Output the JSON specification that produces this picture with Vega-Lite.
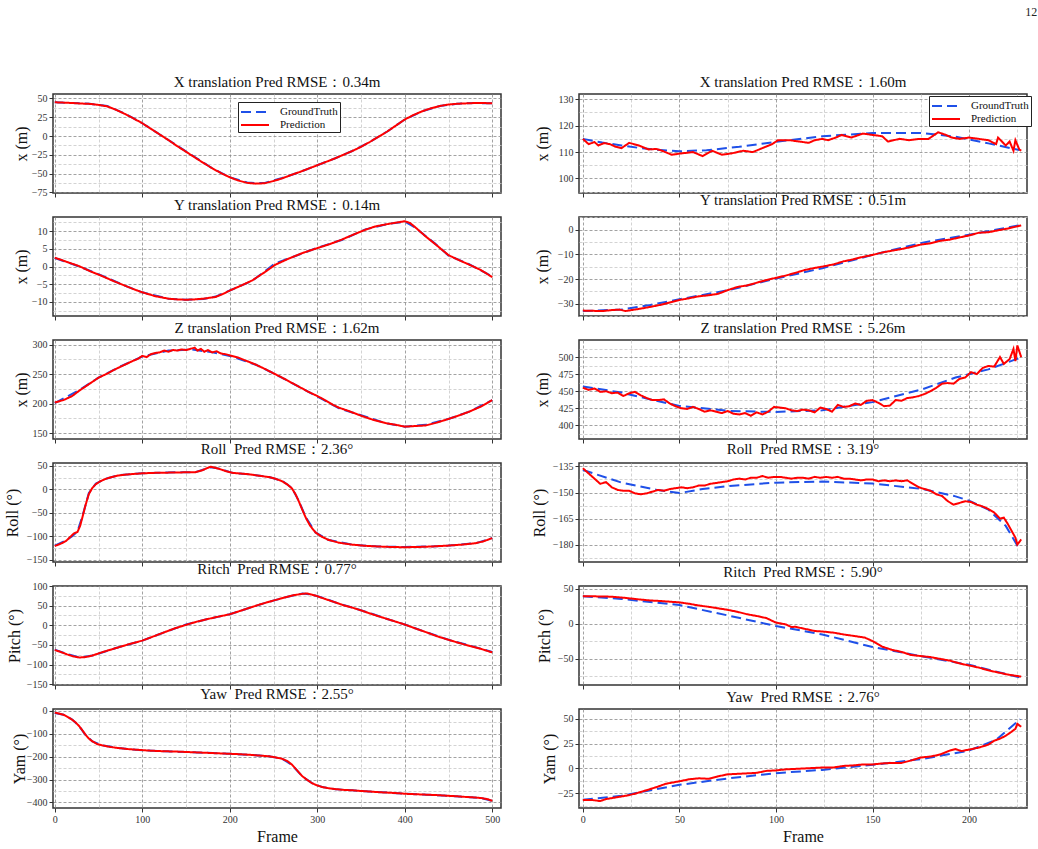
{
"$schema": "https://vega.github.io/schema/vega-lite/v6.json",
"background": "white",
"padding": {"left": 3, "top": 5, "right": 5, "bottom": 5},
"title": {"text": "12", "anchor": "end", "fontSize": 12, "font": "Liberation Serif", "fontWeight": "normal", "color": "#222", "offset": 55, "dx": 5},
"config": {
 "view": {"stroke": "#333", "strokeWidth": 1.5},
 "axis": {"domain": false, "tickColor": "#333", "tickSize": 4, "tickWidth": 1, "gridDash": [3, 2], "gridWidth": 0.8, "labelFont": "Liberation Serif", "labelFontSize": 10, "labelColor": "#333", "labelPadding": 2, "labelFlush": false, "labelOverlap": false, "titleFont": "Liberation Serif", "titleFontWeight": "normal", "titleFontSize": 16, "titleColor": "#111"},
 "title": {"font": "Liberation Serif", "fontSize": 15, "fontWeight": "normal", "color": "#111", "offset": 4},
 "line": {"strokeWidth": 2}
},
"datasets": {
 "L1": [
  {"s":"g","f":0,"v":45},{"s":"g","f":20,"v":44},{"s":"g","f":40,"v":43},{"s":"g","f":60,"v":40},{"s":"g","f":80,"v":30},{"s":"g","f":100,"v":17},{"s":"g","f":120,"v":2},{"s":"g","f":140,"v":-13},{"s":"g","f":160,"v":-28},{"s":"g","f":180,"v":-43},{"s":"g","f":200,"v":-55},{"s":"g","f":220,"v":-62},{"s":"g","f":230,"v":-63},{"s":"g","f":240,"v":-62.5},{"s":"g","f":260,"v":-56},{"s":"g","f":280,"v":-48},{"s":"g","f":300,"v":-39},{"s":"g","f":320,"v":-30},{"s":"g","f":340,"v":-20},{"s":"g","f":360,"v":-8},{"s":"g","f":380,"v":6},{"s":"g","f":400,"v":22},{"s":"g","f":420,"v":33},{"s":"g","f":440,"v":40},{"s":"g","f":460,"v":43},{"s":"g","f":480,"v":44},{"s":"g","f":500,"v":43.5},
  {"s":"r","f":0,"v":45},{"s":"r","f":10,"v":44.5},{"s":"r","f":20,"v":44},{"s":"r","f":30,"v":43.3},{"s":"r","f":40,"v":42.8},{"s":"r","f":50,"v":41.5},{"s":"r","f":60,"v":39.5},{"s":"r","f":70,"v":35},{"s":"r","f":80,"v":29.5},{"s":"r","f":90,"v":23.5},{"s":"r","f":100,"v":17},{"s":"r","f":110,"v":9.5},{"s":"r","f":120,"v":2},{"s":"r","f":130,"v":-5.5},{"s":"r","f":140,"v":-13.5},{"s":"r","f":150,"v":-21},{"s":"r","f":160,"v":-28.5},{"s":"r","f":170,"v":-36},{"s":"r","f":180,"v":-43},{"s":"r","f":190,"v":-49.5},{"s":"r","f":200,"v":-55},{"s":"r","f":210,"v":-59.5},{"s":"r","f":220,"v":-62.5},{"s":"r","f":230,"v":-63.5},{"s":"r","f":240,"v":-63},{"s":"r","f":250,"v":-60},{"s":"r","f":260,"v":-56.5},{"s":"r","f":270,"v":-52},{"s":"r","f":280,"v":-48},{"s":"r","f":290,"v":-43.5},{"s":"r","f":300,"v":-39},{"s":"r","f":310,"v":-34.5},{"s":"r","f":320,"v":-30},{"s":"r","f":330,"v":-25},{"s":"r","f":340,"v":-20},{"s":"r","f":350,"v":-14.5},{"s":"r","f":360,"v":-8},{"s":"r","f":370,"v":-1},{"s":"r","f":380,"v":6},{"s":"r","f":390,"v":14},{"s":"r","f":400,"v":22},{"s":"r","f":410,"v":28},{"s":"r","f":420,"v":33},{"s":"r","f":430,"v":37},{"s":"r","f":440,"v":40},{"s":"r","f":450,"v":42},{"s":"r","f":460,"v":43},{"s":"r","f":470,"v":43.5},{"s":"r","f":480,"v":44},{"s":"r","f":490,"v":44},{"s":"r","f":500,"v":43.5}
 ],
 "R1": [
  {"s":"g","f":0,"v":115},{"s":"g","f":10,"v":113.6},{"s":"g","f":20,"v":112.5},{"s":"g","f":30,"v":111.5},{"s":"g","f":38,"v":110.9},{"s":"g","f":50,"v":110.3},{"s":"g","f":64,"v":110.7},{"s":"g","f":81,"v":112},{"s":"g","f":100,"v":113.9},{"s":"g","f":124,"v":116},{"s":"g","f":150,"v":117.2},{"s":"g","f":176,"v":117.2},{"s":"g","f":193,"v":115.8},{"s":"g","f":210,"v":113.3},{"s":"g","f":226,"v":110.8},
  {"s":"r","f":0,"v":115},{"s":"r","f":3,"v":113},{"s":"r","f":6,"v":113.8},{"s":"r","f":8,"v":112.5},{"s":"r","f":11,"v":113.4},{"s":"r","f":14,"v":113},{"s":"r","f":17,"v":112},{"s":"r","f":20,"v":111.5},{"s":"r","f":24,"v":113.5},{"s":"r","f":29,"v":112.5},{"s":"r","f":34,"v":111},{"s":"r","f":38,"v":111.2},{"s":"r","f":41,"v":110.5},{"s":"r","f":46,"v":109},{"s":"r","f":51,"v":109.5},{"s":"r","f":57,"v":110},{"s":"r","f":62,"v":108.5},{"s":"r","f":67,"v":110.5},{"s":"r","f":72,"v":109},{"s":"r","f":77,"v":109.5},{"s":"r","f":83,"v":110.5},{"s":"r","f":88,"v":110},{"s":"r","f":93,"v":111.5},{"s":"r","f":98,"v":113},{"s":"r","f":101,"v":114.5},{"s":"r","f":107,"v":114.5},{"s":"r","f":112,"v":114},{"s":"r","f":117,"v":113.5},{"s":"r","f":120,"v":114.5},{"s":"r","f":124,"v":115},{"s":"r","f":127,"v":114.5},{"s":"r","f":131,"v":115.5},{"s":"r","f":134,"v":116.5},{"s":"r","f":139,"v":115.5},{"s":"r","f":145,"v":117},{"s":"r","f":150,"v":116.5},{"s":"r","f":155,"v":116},{"s":"r","f":158,"v":114},{"s":"r","f":164,"v":115},{"s":"r","f":169,"v":114.5},{"s":"r","f":174,"v":115},{"s":"r","f":179,"v":115},{"s":"r","f":184,"v":117.5},{"s":"r","f":188,"v":116.5},{"s":"r","f":191,"v":115.5},{"s":"r","f":195,"v":115},{"s":"r","f":200,"v":115.5},{"s":"r","f":205,"v":115},{"s":"r","f":210,"v":114.5},{"s":"r","f":214,"v":113},{"s":"r","f":215,"v":115.5},{"s":"r","f":219,"v":112.5},{"s":"r","f":221,"v":114},{"s":"r","f":223,"v":110.5},{"s":"r","f":224,"v":114.5},{"s":"r","f":226,"v":111},{"s":"r","f":227,"v":110.5}
 ],
 "L2": [
  {"s":"g","f":0,"v":2.4},{"s":"g","f":28,"v":0},{"s":"g","f":54,"v":-2.6},{"s":"g","f":80,"v":-5.4},{"s":"g","f":100,"v":-7.3},{"s":"g","f":130,"v":-9.1},{"s":"g","f":150,"v":-9.4},{"s":"g","f":170,"v":-9.2},{"s":"g","f":184,"v":-8.5},{"s":"g","f":200,"v":-6.8},{"s":"g","f":226,"v":-4},{"s":"g","f":252,"v":0.9},{"s":"g","f":283,"v":3.7},{"s":"g","f":300,"v":5.3},{"s":"g","f":328,"v":7.5},{"s":"g","f":355,"v":10.5},{"s":"g","f":378,"v":11.9},{"s":"g","f":400,"v":12.7},{"s":"g","f":412,"v":11},{"s":"g","f":435,"v":6.4},{"s":"g","f":450,"v":3.1},{"s":"g","f":473,"v":0.7},{"s":"g","f":500,"v":-2.8},
  {"s":"r","f":0,"v":2.5},{"s":"r","f":15,"v":1.2},{"s":"r","f":28,"v":0.1},{"s":"r","f":40,"v":-1.3},{"s":"r","f":54,"v":-2.7},{"s":"r","f":67,"v":-4.1},{"s":"r","f":80,"v":-5.4},{"s":"r","f":90,"v":-6.4},{"s":"r","f":100,"v":-7.3},{"s":"r","f":115,"v":-8.4},{"s":"r","f":130,"v":-9.1},{"s":"r","f":140,"v":-9.3},{"s":"r","f":150,"v":-9.4},{"s":"r","f":160,"v":-9.3},{"s":"r","f":170,"v":-9.1},{"s":"r","f":184,"v":-8.6},{"s":"r","f":192,"v":-7.8},{"s":"r","f":200,"v":-6.8},{"s":"r","f":213,"v":-5.4},{"s":"r","f":226,"v":-3.9},{"s":"r","f":240,"v":-1.6},{"s":"r","f":252,"v":0.5},{"s":"r","f":268,"v":2.3},{"s":"r","f":283,"v":3.8},{"s":"r","f":300,"v":5.2},{"s":"r","f":314,"v":6.3},{"s":"r","f":328,"v":7.6},{"s":"r","f":342,"v":9.1},{"s":"r","f":355,"v":10.4},{"s":"r","f":366,"v":11.3},{"s":"r","f":378,"v":11.9},{"s":"r","f":390,"v":12.4},{"s":"r","f":400,"v":12.8},{"s":"r","f":406,"v":12.3},{"s":"r","f":412,"v":11.1},{"s":"r","f":423,"v":8.7},{"s":"r","f":435,"v":6.3},{"s":"r","f":450,"v":3.2},{"s":"r","f":462,"v":1.8},{"s":"r","f":473,"v":0.6},{"s":"r","f":487,"v":-1},{"s":"r","f":500,"v":-3}
 ],
 "R2": [
  {"s":"g","f":0,"v":-33},{"s":"g","f":20,"v":-32.4},{"s":"g","f":35,"v":-30.5},{"s":"g","f":50,"v":-28.2},{"s":"g","f":76,"v":-24.4},{"s":"g","f":100,"v":-19.8},{"s":"g","f":124,"v":-15.6},{"s":"g","f":150,"v":-10.2},{"s":"g","f":176,"v":-5.2},{"s":"g","f":200,"v":-2},{"s":"g","f":226,"v":1.8},
  {"s":"r","f":0,"v":-32.8},{"s":"r","f":5,"v":-32.9},{"s":"r","f":10,"v":-33},{"s":"r","f":15,"v":-32.6},{"s":"r","f":19,"v":-32.4},{"s":"r","f":22,"v":-33},{"s":"r","f":26,"v":-32.5},{"s":"r","f":30,"v":-32},{"s":"r","f":35,"v":-31.3},{"s":"r","f":40,"v":-30.5},{"s":"r","f":45,"v":-29.5},{"s":"r","f":50,"v":-28.5},{"s":"r","f":55,"v":-27.8},{"s":"r","f":60,"v":-27},{"s":"r","f":65,"v":-26.6},{"s":"r","f":70,"v":-26},{"s":"r","f":75,"v":-24.5},{"s":"r","f":80,"v":-23.2},{"s":"r","f":85,"v":-22.6},{"s":"r","f":90,"v":-21.5},{"s":"r","f":95,"v":-20.4},{"s":"r","f":100,"v":-19.5},{"s":"r","f":105,"v":-18.6},{"s":"r","f":110,"v":-17.5},{"s":"r","f":115,"v":-16.3},{"s":"r","f":120,"v":-15.5},{"s":"r","f":125,"v":-14.8},{"s":"r","f":130,"v":-14},{"s":"r","f":135,"v":-12.8},{"s":"r","f":140,"v":-12},{"s":"r","f":145,"v":-11},{"s":"r","f":150,"v":-10.2},{"s":"r","f":155,"v":-9.2},{"s":"r","f":160,"v":-8.5},{"s":"r","f":165,"v":-7.8},{"s":"r","f":170,"v":-7},{"s":"r","f":175,"v":-6},{"s":"r","f":180,"v":-5.5},{"s":"r","f":185,"v":-4.5},{"s":"r","f":190,"v":-4},{"s":"r","f":195,"v":-3.1},{"s":"r","f":200,"v":-2.3},{"s":"r","f":205,"v":-1.2},{"s":"r","f":210,"v":-1},{"s":"r","f":215,"v":-0.2},{"s":"r","f":220,"v":0.5},{"s":"r","f":227,"v":1.8}
 ],
 "L3": [
  {"s":"g","f":0,"v":201},{"s":"g","f":28,"v":223},{"s":"g","f":50,"v":244},{"s":"g","f":75,"v":263},{"s":"g","f":100,"v":280},{"s":"g","f":130,"v":290},{"s":"g","f":157,"v":292},{"s":"g","f":180,"v":287},{"s":"g","f":200,"v":281},{"s":"g","f":230,"v":266},{"s":"g","f":252,"v":250},{"s":"g","f":275,"v":232},{"s":"g","f":300,"v":212},{"s":"g","f":325,"v":192},{"s":"g","f":351,"v":180},{"s":"g","f":378,"v":167},{"s":"g","f":400,"v":161},{"s":"g","f":424,"v":164},{"s":"g","f":450,"v":174},{"s":"g","f":473,"v":186},{"s":"g","f":500,"v":206},
  {"s":"r","f":0,"v":202},{"s":"r","f":10,"v":206},{"s":"r","f":20,"v":213},{"s":"r","f":28,"v":222},{"s":"r","f":40,"v":234},{"s":"r","f":50,"v":244},{"s":"r","f":60,"v":251},{"s":"r","f":70,"v":259},{"s":"r","f":80,"v":266},{"s":"r","f":90,"v":273},{"s":"r","f":95,"v":276},{"s":"r","f":100,"v":281},{"s":"r","f":105,"v":279},{"s":"r","f":110,"v":284},{"s":"r","f":115,"v":286},{"s":"r","f":120,"v":287},{"s":"r","f":125,"v":290},{"s":"r","f":130,"v":288},{"s":"r","f":135,"v":291},{"s":"r","f":140,"v":290},{"s":"r","f":145,"v":292},{"s":"r","f":150,"v":291},{"s":"r","f":155,"v":293},{"s":"r","f":160,"v":295},{"s":"r","f":163,"v":290},{"s":"r","f":167,"v":293},{"s":"r","f":171,"v":288},{"s":"r","f":175,"v":291},{"s":"r","f":180,"v":287},{"s":"r","f":185,"v":289},{"s":"r","f":190,"v":285},{"s":"r","f":195,"v":284},{"s":"r","f":200,"v":282},{"s":"r","f":210,"v":278},{"s":"r","f":220,"v":272},{"s":"r","f":230,"v":266},{"s":"r","f":240,"v":259},{"s":"r","f":252,"v":250},{"s":"r","f":260,"v":244},{"s":"r","f":275,"v":232},{"s":"r","f":290,"v":220},{"s":"r","f":300,"v":213},{"s":"r","f":310,"v":205},{"s":"r","f":318,"v":198},{"s":"r","f":325,"v":193},{"s":"r","f":335,"v":188},{"s":"r","f":351,"v":179},{"s":"r","f":365,"v":172},{"s":"r","f":378,"v":167},{"s":"r","f":390,"v":164},{"s":"r","f":400,"v":161},{"s":"r","f":412,"v":162},{"s":"r","f":424,"v":163},{"s":"r","f":437,"v":168},{"s":"r","f":450,"v":174},{"s":"r","f":462,"v":180},{"s":"r","f":473,"v":186},{"s":"r","f":487,"v":195},{"s":"r","f":500,"v":206}
 ],
 "R3": [
  {"s":"g","f":0,"v":457},{"s":"g","f":20,"v":448},{"s":"g","f":38,"v":436},{"s":"g","f":50,"v":428.4},{"s":"g","f":76,"v":421},{"s":"g","f":100,"v":419.6},{"s":"g","f":124,"v":422},{"s":"g","f":150,"v":434},{"s":"g","f":176,"v":453},{"s":"g","f":193,"v":470},{"s":"g","f":210,"v":482},{"s":"g","f":226,"v":498.5},
  {"s":"r","f":0,"v":455},{"s":"r","f":3,"v":452},{"s":"r","f":6,"v":454},{"s":"r","f":9,"v":449},{"s":"r","f":12,"v":450},{"s":"r","f":15,"v":447},{"s":"r","f":18,"v":448},{"s":"r","f":21,"v":443},{"s":"r","f":24,"v":447},{"s":"r","f":27,"v":449},{"s":"r","f":30,"v":444},{"s":"r","f":33,"v":440},{"s":"r","f":36,"v":437},{"s":"r","f":39,"v":437},{"s":"r","f":42,"v":438},{"s":"r","f":45,"v":432},{"s":"r","f":48,"v":428},{"s":"r","f":51,"v":425},{"s":"r","f":54,"v":424},{"s":"r","f":57,"v":427},{"s":"r","f":60,"v":424},{"s":"r","f":63,"v":420},{"s":"r","f":66,"v":422},{"s":"r","f":69,"v":420},{"s":"r","f":72,"v":418},{"s":"r","f":75,"v":421},{"s":"r","f":78,"v":417},{"s":"r","f":81,"v":416},{"s":"r","f":84,"v":418},{"s":"r","f":87,"v":414},{"s":"r","f":90,"v":419},{"s":"r","f":93,"v":416},{"s":"r","f":96,"v":420},{"s":"r","f":99,"v":427},{"s":"r","f":102,"v":426},{"s":"r","f":105,"v":425},{"s":"r","f":108,"v":422},{"s":"r","f":111,"v":421},{"s":"r","f":114,"v":423},{"s":"r","f":117,"v":422},{"s":"r","f":120,"v":419},{"s":"r","f":123,"v":426},{"s":"r","f":126,"v":424},{"s":"r","f":129,"v":420},{"s":"r","f":132,"v":430},{"s":"r","f":135,"v":427},{"s":"r","f":138,"v":428},{"s":"r","f":141,"v":432},{"s":"r","f":144,"v":430},{"s":"r","f":147,"v":436},{"s":"r","f":150,"v":437},{"s":"r","f":153,"v":433},{"s":"r","f":156,"v":428},{"s":"r","f":159,"v":429},{"s":"r","f":162,"v":437},{"s":"r","f":165,"v":436},{"s":"r","f":168,"v":440},{"s":"r","f":171,"v":441},{"s":"r","f":174,"v":443},{"s":"r","f":177,"v":446},{"s":"r","f":180,"v":450},{"s":"r","f":183,"v":455},{"s":"r","f":186,"v":461},{"s":"r","f":189,"v":462},{"s":"r","f":192,"v":461},{"s":"r","f":195,"v":468},{"s":"r","f":198,"v":470},{"s":"r","f":201,"v":478},{"s":"r","f":204,"v":475},{"s":"r","f":207,"v":484},{"s":"r","f":210,"v":487},{"s":"r","f":213,"v":486},{"s":"r","f":216,"v":500},{"s":"r","f":218,"v":490},{"s":"r","f":221,"v":497},{"s":"r","f":223,"v":512},{"s":"r","f":224,"v":494},{"s":"r","f":225,"v":517},{"s":"r","f":227,"v":500}
 ],
 "L4": [
  {"s":"g","f":0,"v":-120},{"s":"g","f":13,"v":-109},{"s":"g","f":20,"v":-100},{"s":"g","f":26,"v":-90},{"s":"g","f":32,"v":-55},{"s":"g","f":39,"v":-8},{"s":"g","f":47,"v":12},{"s":"g","f":58,"v":22},{"s":"g","f":73,"v":30},{"s":"g","f":100,"v":34},{"s":"g","f":130,"v":36},{"s":"g","f":161,"v":36.6},{"s":"g","f":170,"v":42},{"s":"g","f":178,"v":47},{"s":"g","f":188,"v":44},{"s":"g","f":203,"v":35},{"s":"g","f":222,"v":32},{"s":"g","f":245,"v":26},{"s":"g","f":260,"v":18},{"s":"g","f":271,"v":3},{"s":"g","f":279,"v":-25},{"s":"g","f":287,"v":-60},{"s":"g","f":298,"v":-92},{"s":"g","f":313,"v":-108},{"s":"g","f":340,"v":-118},{"s":"g","f":370,"v":-122},{"s":"g","f":400,"v":-123},{"s":"g","f":430,"v":-122},{"s":"g","f":450,"v":-120},{"s":"g","f":481,"v":-115},{"s":"g","f":500,"v":-104},
  {"s":"r","f":0,"v":-121},{"s":"r","f":7,"v":-116},{"s":"r","f":13,"v":-110},{"s":"r","f":18,"v":-101},{"s":"r","f":22,"v":-94},{"s":"r","f":26,"v":-91},{"s":"r","f":29,"v":-78},{"s":"r","f":32,"v":-57},{"s":"r","f":35,"v":-35},{"s":"r","f":39,"v":-10},{"s":"r","f":43,"v":3},{"s":"r","f":47,"v":11},{"s":"r","f":52,"v":17},{"s":"r","f":58,"v":22},{"s":"r","f":65,"v":26},{"s":"r","f":73,"v":29.5},{"s":"r","f":85,"v":32},{"s":"r","f":100,"v":34},{"s":"r","f":115,"v":35},{"s":"r","f":130,"v":35.5},{"s":"r","f":145,"v":36},{"s":"r","f":161,"v":36.5},{"s":"r","f":168,"v":40},{"s":"r","f":174,"v":45},{"s":"r","f":178,"v":48},{"s":"r","f":183,"v":46},{"s":"r","f":188,"v":43.5},{"s":"r","f":195,"v":39},{"s":"r","f":203,"v":35},{"s":"r","f":212,"v":33.5},{"s":"r","f":222,"v":32},{"s":"r","f":233,"v":29},{"s":"r","f":245,"v":26},{"s":"r","f":253,"v":22},{"s":"r","f":260,"v":17},{"s":"r","f":266,"v":10},{"s":"r","f":271,"v":2},{"s":"r","f":275,"v":-10},{"s":"r","f":279,"v":-26},{"s":"r","f":283,"v":-44},{"s":"r","f":287,"v":-61},{"s":"r","f":292,"v":-78},{"s":"r","f":298,"v":-92},{"s":"r","f":305,"v":-101},{"s":"r","f":313,"v":-108},{"s":"r","f":325,"v":-114},{"s":"r","f":340,"v":-118},{"s":"r","f":355,"v":-120.5},{"s":"r","f":370,"v":-122},{"s":"r","f":385,"v":-123},{"s":"r","f":400,"v":-123.5},{"s":"r","f":415,"v":-123},{"s":"r","f":430,"v":-122},{"s":"r","f":450,"v":-120},{"s":"r","f":465,"v":-118},{"s":"r","f":481,"v":-115},{"s":"r","f":490,"v":-111},{"s":"r","f":500,"v":-104}
 ],
 "R4": [
  {"s":"g","f":0,"v":-137},{"s":"g","f":20,"v":-144.3},{"s":"g","f":38,"v":-148.4},{"s":"g","f":50,"v":-150.3},{"s":"g","f":62,"v":-148},{"s":"g","f":76,"v":-146.2},{"s":"g","f":100,"v":-144.3},{"s":"g","f":124,"v":-143.7},{"s":"g","f":150,"v":-144.8},{"s":"g","f":176,"v":-148},{"s":"g","f":193,"v":-152.2},{"s":"g","f":200,"v":-154.7},{"s":"g","f":210,"v":-159.8},{"s":"g","f":219,"v":-169.2},{"s":"g","f":226,"v":-182.4},
  {"s":"r","f":0,"v":-136},{"s":"r","f":3,"v":-139},{"s":"r","f":6,"v":-142},{"s":"r","f":9,"v":-145},{"s":"r","f":12,"v":-144},{"s":"r","f":15,"v":-147},{"s":"r","f":18,"v":-148.5},{"s":"r","f":21,"v":-149},{"s":"r","f":24,"v":-149},{"s":"r","f":27,"v":-150.5},{"s":"r","f":30,"v":-151},{"s":"r","f":33,"v":-150.5},{"s":"r","f":36,"v":-149.5},{"s":"r","f":39,"v":-148.5},{"s":"r","f":42,"v":-149},{"s":"r","f":45,"v":-148},{"s":"r","f":48,"v":-147.5},{"s":"r","f":51,"v":-147},{"s":"r","f":54,"v":-147.5},{"s":"r","f":57,"v":-147},{"s":"r","f":60,"v":-146},{"s":"r","f":63,"v":-146},{"s":"r","f":66,"v":-145},{"s":"r","f":69,"v":-144.5},{"s":"r","f":72,"v":-144},{"s":"r","f":75,"v":-143.5},{"s":"r","f":78,"v":-142.5},{"s":"r","f":81,"v":-142},{"s":"r","f":84,"v":-142.5},{"s":"r","f":87,"v":-141.5},{"s":"r","f":90,"v":-141.5},{"s":"r","f":93,"v":-140.5},{"s":"r","f":96,"v":-141.5},{"s":"r","f":99,"v":-141},{"s":"r","f":102,"v":-141},{"s":"r","f":105,"v":-141.5},{"s":"r","f":108,"v":-142},{"s":"r","f":111,"v":-141.5},{"s":"r","f":114,"v":-141.5},{"s":"r","f":117,"v":-142},{"s":"r","f":120,"v":-141},{"s":"r","f":123,"v":-141.5},{"s":"r","f":126,"v":-141},{"s":"r","f":129,"v":-141.5},{"s":"r","f":132,"v":-141},{"s":"r","f":135,"v":-142},{"s":"r","f":138,"v":-142},{"s":"r","f":141,"v":-142.5},{"s":"r","f":144,"v":-143},{"s":"r","f":147,"v":-142.5},{"s":"r","f":150,"v":-142.5},{"s":"r","f":153,"v":-143.5},{"s":"r","f":156,"v":-143},{"s":"r","f":159,"v":-143.5},{"s":"r","f":162,"v":-143},{"s":"r","f":165,"v":-143.5},{"s":"r","f":168,"v":-143},{"s":"r","f":171,"v":-145},{"s":"r","f":174,"v":-147},{"s":"r","f":177,"v":-148},{"s":"r","f":180,"v":-149},{"s":"r","f":183,"v":-151},{"s":"r","f":186,"v":-152},{"s":"r","f":189,"v":-155},{"s":"r","f":192,"v":-157},{"s":"r","f":195,"v":-156},{"s":"r","f":198,"v":-155},{"s":"r","f":201,"v":-155.5},{"s":"r","f":204,"v":-157},{"s":"r","f":207,"v":-158},{"s":"r","f":210,"v":-159.5},{"s":"r","f":213,"v":-161.5},{"s":"r","f":216,"v":-165},{"s":"r","f":218,"v":-164.5},{"s":"r","f":220,"v":-168},{"s":"r","f":222,"v":-172},{"s":"r","f":224,"v":-176},{"s":"r","f":225,"v":-180},{"s":"r","f":227,"v":-177}
 ],
 "L5": [
  {"s":"g","f":0,"v":-62},{"s":"g","f":14,"v":-73},{"s":"g","f":28,"v":-82},{"s":"g","f":43,"v":-77},{"s":"g","f":70,"v":-58},{"s":"g","f":100,"v":-39},{"s":"g","f":125,"v":-18},{"s":"g","f":150,"v":2},{"s":"g","f":175,"v":16},{"s":"g","f":200,"v":28},{"s":"g","f":222,"v":44},{"s":"g","f":245,"v":60},{"s":"g","f":265,"v":72},{"s":"g","f":283,"v":81},{"s":"g","f":294,"v":78},{"s":"g","f":305,"v":71},{"s":"g","f":321,"v":58},{"s":"g","f":340,"v":45},{"s":"g","f":359,"v":32},{"s":"g","f":380,"v":16},{"s":"g","f":400,"v":2},{"s":"g","f":425,"v":-18},{"s":"g","f":450,"v":-37},{"s":"g","f":475,"v":-52},{"s":"g","f":500,"v":-68},
  {"s":"r","f":0,"v":-63},{"s":"r","f":7,"v":-68},{"s":"r","f":14,"v":-74},{"s":"r","f":21,"v":-79},{"s":"r","f":28,"v":-82},{"s":"r","f":35,"v":-81},{"s":"r","f":43,"v":-77},{"s":"r","f":55,"v":-68},{"s":"r","f":70,"v":-58},{"s":"r","f":85,"v":-48},{"s":"r","f":100,"v":-39},{"s":"r","f":112,"v":-29},{"s":"r","f":125,"v":-18},{"s":"r","f":137,"v":-8},{"s":"r","f":150,"v":1},{"s":"r","f":162,"v":9},{"s":"r","f":175,"v":16},{"s":"r","f":187,"v":22},{"s":"r","f":200,"v":28},{"s":"r","f":211,"v":36},{"s":"r","f":222,"v":44},{"s":"r","f":233,"v":52},{"s":"r","f":245,"v":60},{"s":"r","f":255,"v":66},{"s":"r","f":265,"v":72},{"s":"r","f":274,"v":77},{"s":"r","f":283,"v":80},{"s":"r","f":288,"v":81},{"s":"r","f":294,"v":78},{"s":"r","f":300,"v":74},{"s":"r","f":305,"v":70},{"s":"r","f":313,"v":64},{"s":"r","f":321,"v":58},{"s":"r","f":330,"v":51},{"s":"r","f":340,"v":45},{"s":"r","f":350,"v":38},{"s":"r","f":359,"v":31},{"s":"r","f":370,"v":23},{"s":"r","f":380,"v":16},{"s":"r","f":390,"v":9},{"s":"r","f":400,"v":2},{"s":"r","f":412,"v":-8},{"s":"r","f":425,"v":-18},{"s":"r","f":437,"v":-28},{"s":"r","f":450,"v":-37},{"s":"r","f":462,"v":-45},{"s":"r","f":475,"v":-53},{"s":"r","f":487,"v":-60},{"s":"r","f":500,"v":-69}
 ],
 "R5": [
  {"s":"g","f":0,"v":39.3},{"s":"g","f":20,"v":35.4},{"s":"g","f":50,"v":26.7},{"s":"g","f":76,"v":11.2},{"s":"g","f":100,"v":-3.4},{"s":"g","f":124,"v":-15.5},{"s":"g","f":150,"v":-33.5},{"s":"g","f":176,"v":-47},{"s":"g","f":200,"v":-59},{"s":"g","f":226,"v":-77},
  {"s":"r","f":0,"v":39.5},{"s":"r","f":5,"v":39.2},{"s":"r","f":10,"v":39},{"s":"r","f":15,"v":38.6},{"s":"r","f":20,"v":37.5},{"s":"r","f":25,"v":36},{"s":"r","f":30,"v":34.5},{"s":"r","f":35,"v":33.2},{"s":"r","f":40,"v":32.5},{"s":"r","f":45,"v":31.5},{"s":"r","f":50,"v":30.5},{"s":"r","f":55,"v":28.5},{"s":"r","f":60,"v":26},{"s":"r","f":65,"v":24.2},{"s":"r","f":70,"v":22},{"s":"r","f":75,"v":19.8},{"s":"r","f":80,"v":17},{"s":"r","f":85,"v":13.5},{"s":"r","f":90,"v":11},{"s":"r","f":95,"v":8},{"s":"r","f":100,"v":1.5},{"s":"r","f":105,"v":-1},{"s":"r","f":108,"v":-4.8},{"s":"r","f":110,"v":-4.5},{"s":"r","f":115,"v":-7.5},{"s":"r","f":120,"v":-10.5},{"s":"r","f":125,"v":-11.5},{"s":"r","f":130,"v":-13},{"s":"r","f":135,"v":-15.5},{"s":"r","f":140,"v":-17.5},{"s":"r","f":146,"v":-20},{"s":"r","f":150,"v":-25},{"s":"r","f":155,"v":-33},{"s":"r","f":160,"v":-37.5},{"s":"r","f":165,"v":-40.5},{"s":"r","f":170,"v":-45},{"s":"r","f":175,"v":-46.5},{"s":"r","f":180,"v":-48},{"s":"r","f":185,"v":-50.5},{"s":"r","f":190,"v":-53},{"s":"r","f":195,"v":-57},{"s":"r","f":200,"v":-60},{"s":"r","f":205,"v":-63},{"s":"r","f":210,"v":-67},{"s":"r","f":215,"v":-70},{"s":"r","f":220,"v":-73},{"s":"r","f":227,"v":-76}
 ],
 "L6": [
  {"s":"g","f":0,"v":-10},{"s":"g","f":10,"v":-18},{"s":"g","f":20,"v":-39},{"s":"g","f":28,"v":-68},{"s":"g","f":35,"v":-105},{"s":"g","f":43,"v":-134},{"s":"g","f":54,"v":-151},{"s":"g","f":73,"v":-163},{"s":"g","f":100,"v":-173},{"s":"g","f":125,"v":-177},{"s":"g","f":150,"v":-180},{"s":"g","f":175,"v":-184},{"s":"g","f":200,"v":-188},{"s":"g","f":225,"v":-193},{"s":"g","f":245,"v":-199},{"s":"g","f":260,"v":-210},{"s":"g","f":271,"v":-236},{"s":"g","f":283,"v":-287},{"s":"g","f":294,"v":-316},{"s":"g","f":306,"v":-333},{"s":"g","f":321,"v":-342},{"s":"g","f":340,"v":-347},{"s":"g","f":359,"v":-352},{"s":"g","f":380,"v":-357},{"s":"g","f":400,"v":-362},{"s":"g","f":425,"v":-366},{"s":"g","f":450,"v":-371},{"s":"g","f":470,"v":-376},{"s":"g","f":488,"v":-381},{"s":"g","f":500,"v":-393},
  {"s":"r","f":0,"v":-9},{"s":"r","f":5,"v":-13},{"s":"r","f":10,"v":-18},{"s":"r","f":15,"v":-28},{"s":"r","f":20,"v":-40},{"s":"r","f":24,"v":-52},{"s":"r","f":28,"v":-68},{"s":"r","f":32,"v":-88},{"s":"r","f":35,"v":-104},{"s":"r","f":39,"v":-122},{"s":"r","f":43,"v":-134},{"s":"r","f":48,"v":-145},{"s":"r","f":54,"v":-151},{"s":"r","f":63,"v":-158},{"s":"r","f":73,"v":-163},{"s":"r","f":85,"v":-168},{"s":"r","f":100,"v":-172},{"s":"r","f":112,"v":-175},{"s":"r","f":125,"v":-177},{"s":"r","f":137,"v":-178},{"s":"r","f":150,"v":-180},{"s":"r","f":162,"v":-182},{"s":"r","f":175,"v":-184},{"s":"r","f":187,"v":-186},{"s":"r","f":200,"v":-188},{"s":"r","f":212,"v":-190},{"s":"r","f":225,"v":-193},{"s":"r","f":235,"v":-196},{"s":"r","f":245,"v":-199},{"s":"r","f":253,"v":-204},{"s":"r","f":260,"v":-210},{"s":"r","f":266,"v":-220},{"s":"r","f":271,"v":-235},{"s":"r","f":277,"v":-260},{"s":"r","f":283,"v":-286},{"s":"r","f":289,"v":-303},{"s":"r","f":294,"v":-316},{"s":"r","f":300,"v":-326},{"s":"r","f":306,"v":-333},{"s":"r","f":313,"v":-338},{"s":"r","f":321,"v":-342},{"s":"r","f":330,"v":-345},{"s":"r","f":340,"v":-347},{"s":"r","f":350,"v":-350},{"s":"r","f":359,"v":-352},{"s":"r","f":370,"v":-355},{"s":"r","f":380,"v":-357},{"s":"r","f":390,"v":-359},{"s":"r","f":400,"v":-362},{"s":"r","f":412,"v":-364},{"s":"r","f":425,"v":-366},{"s":"r","f":437,"v":-368},{"s":"r","f":450,"v":-371},{"s":"r","f":460,"v":-373},{"s":"r","f":470,"v":-376},{"s":"r","f":480,"v":-378},{"s":"r","f":488,"v":-381},{"s":"r","f":495,"v":-386},{"s":"r","f":500,"v":-393}
 ],
 "R6": [
  {"s":"g","f":0,"v":-31.7},{"s":"g","f":20,"v":-27.7},{"s":"g","f":50,"v":-16.6},{"s":"g","f":76,"v":-9.9},{"s":"g","f":100,"v":-4.8},{"s":"g","f":124,"v":-1.5},{"s":"g","f":150,"v":3.6},{"s":"g","f":176,"v":9.6},{"s":"g","f":200,"v":18},{"s":"g","f":214,"v":28.8},{"s":"g","f":220,"v":38.9},{"s":"g","f":226.5,"v":49.7},
  {"s":"r","f":0,"v":-32},{"s":"r","f":5,"v":-32},{"s":"r","f":9,"v":-33},{"s":"r","f":12,"v":-31},{"s":"r","f":18,"v":-29},{"s":"r","f":24,"v":-27},{"s":"r","f":28,"v":-25},{"s":"r","f":33,"v":-22},{"s":"r","f":38,"v":-19},{"s":"r","f":43,"v":-15.5},{"s":"r","f":50,"v":-13},{"s":"r","f":55,"v":-11},{"s":"r","f":60,"v":-10},{"s":"r","f":65,"v":-10.5},{"s":"r","f":70,"v":-8},{"s":"r","f":75,"v":-6},{"s":"r","f":80,"v":-5.5},{"s":"r","f":85,"v":-5},{"s":"r","f":90,"v":-4.5},{"s":"r","f":95,"v":-2.5},{"s":"r","f":100,"v":-2},{"s":"r","f":105,"v":-1},{"s":"r","f":110,"v":-0.5},{"s":"r","f":115,"v":0},{"s":"r","f":120,"v":0.5},{"s":"r","f":125,"v":1},{"s":"r","f":130,"v":1},{"s":"r","f":135,"v":2.5},{"s":"r","f":140,"v":3},{"s":"r","f":145,"v":4},{"s":"r","f":150,"v":4},{"s":"r","f":155,"v":5},{"s":"r","f":160,"v":5.5},{"s":"r","f":165,"v":5.5},{"s":"r","f":170,"v":8},{"s":"r","f":175,"v":11},{"s":"r","f":180,"v":12},{"s":"r","f":185,"v":14},{"s":"r","f":190,"v":18},{"s":"r","f":193,"v":19.5},{"s":"r","f":196,"v":17.5},{"s":"r","f":200,"v":19},{"s":"r","f":205,"v":21},{"s":"r","f":210,"v":24},{"s":"r","f":213,"v":28},{"s":"r","f":216,"v":30},{"s":"r","f":219,"v":33},{"s":"r","f":222,"v":37},{"s":"r","f":224,"v":40},{"s":"r","f":225,"v":45},{"s":"r","f":227,"v":42}
 ]
},
"columns": 2,
"spacing": {"row": 24, "column": 78},
"bounds": "flush",
"resolve": {"scale": {"color": "independent", "strokeDash": "independent"}},
"concat": [
 {"width": 448, "height": 99, "title": "X translation Pred RMSE：0.34m", "data": {"name": "L1"}, "mark": {"type": "line", "strokeWidth": 2},
  "encoding": {
   "x": {"field": "f", "type": "quantitative", "scale": {"domain": [-2, 510], "nice": false, "zero": false}, "axis": {"title": null, "labels": false, "values": [0,50,100,150,200,250,300,350,400,450,500], "tickOpacity": {"condition": {"test": "datum.value % 100 === 0", "value": 1}, "value": 0}, "gridColor": {"condition": {"test": "datum.value % 100 === 0", "value": "#8a8a8a"}, "value": "#c8c8c8"}}},
   "y": {"field": "v", "type": "quantitative", "scale": {"domain": [-76, 56], "nice": false, "zero": false}, "axis": {"title": "x (m)", "titleX": -24, "format": "d", "values": [-75,-62.5,-50,-37.5,-25,-12.5,0,12.5,25,37.5,50], "labelExpr": "datum.value % 25 === 0 ? datum.label : ''", "tickOpacity": {"condition": {"test": "datum.value % 25 === 0", "value": 1}, "value": 0}, "gridColor": {"condition": {"test": "datum.value % 25 === 0", "value": "#8a8a8a"}, "value": "#c8c8c8"}}},
   "color": {"field": "s", "type": "nominal", "scale": {"domain": ["g", "r"], "range": ["#1f50e8", "#ff0000"]}, "legend": {"orient": "none", "legendX": 185, "legendY": 8, "title": null, "labelExpr": "datum.value === 'g' ? 'GroundTruth' : 'Prediction'", "strokeColor": "#222", "fillColor": "white", "padding": 2, "symbolType": "M-2,0L2,0", "symbolSize": 196, "symbolOffset": 7, "symbolStrokeWidth": 2, "labelFont": "Liberation Serif", "labelFontSize": 11, "labelColor": "#111", "rowPadding": 0, "labelOffset": 17}},
   "strokeDash": {"field": "s", "type": "nominal", "scale": {"domain": ["g", "r"], "range": [[10, 5], [1, 0]]}, "legend": {"orient": "none", "legendX": 185, "legendY": 8, "title": null, "labelExpr": "datum.value === 'g' ? 'GroundTruth' : 'Prediction'", "strokeColor": "#222", "fillColor": "white", "padding": 2, "symbolType": "M-2,0L2,0", "symbolSize": 196, "symbolOffset": 7, "symbolStrokeWidth": 2, "labelFont": "Liberation Serif", "labelFontSize": 11, "labelColor": "#111", "rowPadding": 0, "labelOffset": 17}}
  }},
 {"width": 448, "height": 99, "title": "X translation Pred RMSE：1.60m", "data": {"name": "R1"}, "mark": {"type": "line", "strokeWidth": 2},
  "encoding": {
   "x": {"field": "f", "type": "quantitative", "scale": {"domain": [-2, 230], "nice": false, "zero": false}, "axis": {"title": null, "labels": false, "values": [0,25,50,75,100,125,150,175,200,225], "tickOpacity": {"condition": {"test": "datum.value % 50 === 0", "value": 1}, "value": 0}, "gridColor": {"condition": {"test": "datum.value % 50 === 0", "value": "#8a8a8a"}, "value": "#c8c8c8"}}},
   "y": {"field": "v", "type": "quantitative", "scale": {"domain": [94.5, 132], "nice": false, "zero": false}, "axis": {"title": "x (m)", "titleX": -29, "format": "d", "values": [95,100,105,110,115,120,125,130], "labelExpr": "datum.value % 10 === 0 ? datum.label : ''", "tickOpacity": {"condition": {"test": "datum.value % 10 === 0", "value": 1}, "value": 0}, "gridColor": {"condition": {"test": "datum.value % 10 === 0", "value": "#8a8a8a"}, "value": "#c8c8c8"}}},
   "color": {"field": "s", "type": "nominal", "scale": {"domain": ["g", "r"], "range": ["#1f50e8", "#ff0000"]}, "legend": {"orient": "none", "legendX": 350, "legendY": 2, "title": null, "labelExpr": "datum.value === 'g' ? 'GroundTruth' : 'Prediction'", "strokeColor": "#222", "fillColor": "white", "padding": 2, "symbolType": "M-2,0L2,0", "symbolSize": 196, "symbolOffset": 7, "symbolStrokeWidth": 2, "labelFont": "Liberation Serif", "labelFontSize": 11, "labelColor": "#111", "rowPadding": 0, "labelOffset": 17}},
   "strokeDash": {"field": "s", "type": "nominal", "scale": {"domain": ["g", "r"], "range": [[10, 5], [1, 0]]}, "legend": {"orient": "none", "legendX": 350, "legendY": 2, "title": null, "labelExpr": "datum.value === 'g' ? 'GroundTruth' : 'Prediction'", "strokeColor": "#222", "fillColor": "white", "padding": 2, "symbolType": "M-2,0L2,0", "symbolSize": 196, "symbolOffset": 7, "symbolStrokeWidth": 2, "labelFont": "Liberation Serif", "labelFontSize": 11, "labelColor": "#111", "rowPadding": 0, "labelOffset": 17}}
  }},
 {"width": 448, "height": 99, "title": "Y translation Pred RMSE：0.14m", "data": {"name": "L2"}, "mark": {"type": "line", "strokeWidth": 2},
  "encoding": {
   "x": {"field": "f", "type": "quantitative", "scale": {"domain": [-2, 510], "nice": false, "zero": false}, "axis": {"title": null, "labels": false, "values": [0,50,100,150,200,250,300,350,400,450,500], "tickOpacity": {"condition": {"test": "datum.value % 100 === 0", "value": 1}, "value": 0}, "gridColor": {"condition": {"test": "datum.value % 100 === 0", "value": "#8a8a8a"}, "value": "#c8c8c8"}}},
   "y": {"field": "v", "type": "quantitative", "scale": {"domain": [-14, 14], "nice": false, "zero": false}, "axis": {"title": "x (m)", "titleX": -24, "format": "d", "values": [-12.5,-10,-7.5,-5,-2.5,0,2.5,5,7.5,10,12.5], "labelExpr": "datum.value % 5 === 0 ? datum.label : ''", "tickOpacity": {"condition": {"test": "datum.value % 5 === 0", "value": 1}, "value": 0}, "gridColor": {"condition": {"test": "datum.value % 5 === 0", "value": "#8a8a8a"}, "value": "#c8c8c8"}}},
   "color": {"field": "s", "type": "nominal", "scale": {"domain": ["g", "r"], "range": ["#1f50e8", "#ff0000"]}, "legend": null},
   "strokeDash": {"field": "s", "type": "nominal", "scale": {"domain": ["g", "r"], "range": [[10, 5], [1, 0]]}, "legend": null}
  }},
 {"width": 448, "height": 99, "title": "Y translation Pred RMSE：0.51m", "data": {"name": "R2"}, "mark": {"type": "line", "strokeWidth": 2},
  "encoding": {
   "x": {"field": "f", "type": "quantitative", "scale": {"domain": [-2, 230], "nice": false, "zero": false}, "axis": {"title": null, "labels": false, "values": [0,25,50,75,100,125,150,175,200,225], "tickOpacity": {"condition": {"test": "datum.value % 50 === 0", "value": 1}, "value": 0}, "gridColor": {"condition": {"test": "datum.value % 50 === 0", "value": "#8a8a8a"}, "value": "#c8c8c8"}}},
   "y": {"field": "v", "type": "quantitative", "scale": {"domain": [-35, 5.2], "nice": false, "zero": false}, "axis": {"title": "x (m)", "titleX": -29, "format": "d", "values": [-35,-30,-25,-20,-15,-10,-5,0,5], "labelExpr": "datum.value % 10 === 0 && datum.value > -35 ? datum.label : ''", "tickOpacity": {"condition": {"test": "datum.value % 10 === 0", "value": 1}, "value": 0}, "gridColor": {"condition": {"test": "datum.value % 10 === 0", "value": "#8a8a8a"}, "value": "#c8c8c8"}}},
   "color": {"field": "s", "type": "nominal", "scale": {"domain": ["g", "r"], "range": ["#1f50e8", "#ff0000"]}, "legend": null},
   "strokeDash": {"field": "s", "type": "nominal", "scale": {"domain": ["g", "r"], "range": [[10, 5], [1, 0]]}, "legend": null}
  }},
 {"width": 448, "height": 99, "title": "Z translation Pred RMSE：1.62m", "data": {"name": "L3"}, "mark": {"type": "line", "strokeWidth": 2},
  "encoding": {
   "x": {"field": "f", "type": "quantitative", "scale": {"domain": [-2, 510], "nice": false, "zero": false}, "axis": {"title": null, "labels": false, "values": [0,50,100,150,200,250,300,350,400,450,500], "tickOpacity": {"condition": {"test": "datum.value % 100 === 0", "value": 1}, "value": 0}, "gridColor": {"condition": {"test": "datum.value % 100 === 0", "value": "#8a8a8a"}, "value": "#c8c8c8"}}},
   "y": {"field": "v", "type": "quantitative", "scale": {"domain": [140, 308], "nice": false, "zero": false}, "axis": {"title": "x (m)", "titleX": -24, "format": "d", "values": [150,175,200,225,250,275,300], "labelExpr": "datum.value % 50 === 0 ? datum.label : ''", "tickOpacity": {"condition": {"test": "datum.value % 50 === 0", "value": 1}, "value": 0}, "gridColor": {"condition": {"test": "datum.value % 50 === 0", "value": "#8a8a8a"}, "value": "#c8c8c8"}}},
   "color": {"field": "s", "type": "nominal", "scale": {"domain": ["g", "r"], "range": ["#1f50e8", "#ff0000"]}, "legend": null},
   "strokeDash": {"field": "s", "type": "nominal", "scale": {"domain": ["g", "r"], "range": [[10, 5], [1, 0]]}, "legend": null}
  }},
 {"width": 448, "height": 99, "title": "Z translation Pred RMSE：5.26m", "data": {"name": "R3"}, "mark": {"type": "line", "strokeWidth": 2},
  "encoding": {
   "x": {"field": "f", "type": "quantitative", "scale": {"domain": [-2, 230], "nice": false, "zero": false}, "axis": {"title": null, "labels": false, "values": [0,25,50,75,100,125,150,175,200,225], "tickOpacity": {"condition": {"test": "datum.value % 50 === 0", "value": 1}, "value": 0}, "gridColor": {"condition": {"test": "datum.value % 50 === 0", "value": "#8a8a8a"}, "value": "#c8c8c8"}}},
   "y": {"field": "v", "type": "quantitative", "scale": {"domain": [380, 525], "nice": false, "zero": false}, "axis": {"title": "x (m)", "titleX": -29, "format": "d", "values": [387.5,400,412.5,425,437.5,450,462.5,475,487.5,500,512.5], "labelExpr": "datum.value % 25 === 0 ? datum.label : ''", "tickOpacity": {"condition": {"test": "datum.value % 25 === 0", "value": 1}, "value": 0}, "gridColor": {"condition": {"test": "datum.value % 25 === 0", "value": "#8a8a8a"}, "value": "#c8c8c8"}}},
   "color": {"field": "s", "type": "nominal", "scale": {"domain": ["g", "r"], "range": ["#1f50e8", "#ff0000"]}, "legend": null},
   "strokeDash": {"field": "s", "type": "nominal", "scale": {"domain": ["g", "r"], "range": [[10, 5], [1, 0]]}, "legend": null}
  }},
 {"width": 448, "height": 99, "title": "Roll\u00a0 Pred RMSE：2.36°", "data": {"name": "L4"}, "mark": {"type": "line", "strokeWidth": 2},
  "encoding": {
   "x": {"field": "f", "type": "quantitative", "scale": {"domain": [-2, 510], "nice": false, "zero": false}, "axis": {"title": null, "labels": false, "values": [0,50,100,150,200,250,300,350,400,450,500], "tickOpacity": {"condition": {"test": "datum.value % 100 === 0", "value": 1}, "value": 0}, "gridColor": {"condition": {"test": "datum.value % 100 === 0", "value": "#8a8a8a"}, "value": "#c8c8c8"}}},
   "y": {"field": "v", "type": "quantitative", "scale": {"domain": [-155, 56], "nice": false, "zero": false}, "axis": {"title": "Roll (°)", "titleX": -33, "format": "d", "values": [-150,-125,-100,-75,-50,-25,0,25,50], "labelExpr": "datum.value % 50 === 0 ? datum.label : ''", "tickOpacity": {"condition": {"test": "datum.value % 50 === 0", "value": 1}, "value": 0}, "gridColor": {"condition": {"test": "datum.value % 50 === 0", "value": "#8a8a8a"}, "value": "#c8c8c8"}}},
   "color": {"field": "s", "type": "nominal", "scale": {"domain": ["g", "r"], "range": ["#1f50e8", "#ff0000"]}, "legend": null},
   "strokeDash": {"field": "s", "type": "nominal", "scale": {"domain": ["g", "r"], "range": [[10, 5], [1, 0]]}, "legend": null}
  }},
 {"width": 448, "height": 99, "title": "Roll\u00a0 Pred RMSE：3.19°", "data": {"name": "R4"}, "mark": {"type": "line", "strokeWidth": 2},
  "encoding": {
   "x": {"field": "f", "type": "quantitative", "scale": {"domain": [-2, 230], "nice": false, "zero": false}, "axis": {"title": null, "labels": false, "values": [0,25,50,75,100,125,150,175,200,225], "tickOpacity": {"condition": {"test": "datum.value % 50 === 0", "value": 1}, "value": 0}, "gridColor": {"condition": {"test": "datum.value % 50 === 0", "value": "#8a8a8a"}, "value": "#c8c8c8"}}},
   "y": {"field": "v", "type": "quantitative", "scale": {"domain": [-190, -133], "nice": false, "zero": false}, "axis": {"title": "Roll (°)", "titleX": -32, "format": "d", "values": [-187.5,-180,-172.5,-165,-157.5,-150,-142.5,-135], "labelExpr": "datum.value % 15 === 0 ? datum.label : ''", "tickOpacity": {"condition": {"test": "datum.value % 15 === 0", "value": 1}, "value": 0}, "gridColor": {"condition": {"test": "datum.value % 15 === 0", "value": "#8a8a8a"}, "value": "#c8c8c8"}}},
   "color": {"field": "s", "type": "nominal", "scale": {"domain": ["g", "r"], "range": ["#1f50e8", "#ff0000"]}, "legend": null},
   "strokeDash": {"field": "s", "type": "nominal", "scale": {"domain": ["g", "r"], "range": [[10, 5], [1, 0]]}, "legend": null}
  }},
 {"width": 448, "height": 99, "title": "Ritch\u00a0 Pred RMSE：0.77°", "data": {"name": "L5"}, "mark": {"type": "line", "strokeWidth": 2},
  "encoding": {
   "x": {"field": "f", "type": "quantitative", "scale": {"domain": [-2, 510], "nice": false, "zero": false}, "axis": {"title": null, "labels": false, "values": [0,50,100,150,200,250,300,350,400,450,500], "tickOpacity": {"condition": {"test": "datum.value % 100 === 0", "value": 1}, "value": 0}, "gridColor": {"condition": {"test": "datum.value % 100 === 0", "value": "#8a8a8a"}, "value": "#c8c8c8"}}},
   "y": {"field": "v", "type": "quantitative", "scale": {"domain": [-152, 100], "nice": false, "zero": false}, "axis": {"title": "Pitch (°)", "titleX": -31, "format": "d", "values": [-150,-125,-100,-75,-50,-25,0,25,50,75,100], "labelExpr": "datum.value % 50 === 0 ? datum.label : ''", "tickOpacity": {"condition": {"test": "datum.value % 50 === 0", "value": 1}, "value": 0}, "gridColor": {"condition": {"test": "datum.value % 50 === 0", "value": "#8a8a8a"}, "value": "#c8c8c8"}}},
   "color": {"field": "s", "type": "nominal", "scale": {"domain": ["g", "r"], "range": ["#1f50e8", "#ff0000"]}, "legend": null},
   "strokeDash": {"field": "s", "type": "nominal", "scale": {"domain": ["g", "r"], "range": [[10, 5], [1, 0]]}, "legend": null}
  }},
 {"width": 448, "height": 99, "title": "Ritch\u00a0 Pred RMSE：5.90°", "data": {"name": "R5"}, "mark": {"type": "line", "strokeWidth": 2},
  "encoding": {
   "x": {"field": "f", "type": "quantitative", "scale": {"domain": [-2, 230], "nice": false, "zero": false}, "axis": {"title": null, "labels": false, "values": [0,25,50,75,100,125,150,175,200,225], "tickOpacity": {"condition": {"test": "datum.value % 50 === 0", "value": 1}, "value": 0}, "gridColor": {"condition": {"test": "datum.value % 50 === 0", "value": "#8a8a8a"}, "value": "#c8c8c8"}}},
   "y": {"field": "v", "type": "quantitative", "scale": {"domain": [-88, 54], "nice": false, "zero": false}, "axis": {"title": "Pitch (°)", "titleX": -27, "format": "d", "values": [-75,-50,-25,0,25,50], "labelExpr": "datum.value % 50 === 0 ? datum.label : ''", "tickOpacity": {"condition": {"test": "datum.value % 50 === 0", "value": 1}, "value": 0}, "gridColor": {"condition": {"test": "datum.value % 50 === 0", "value": "#8a8a8a"}, "value": "#c8c8c8"}}},
   "color": {"field": "s", "type": "nominal", "scale": {"domain": ["g", "r"], "range": ["#1f50e8", "#ff0000"]}, "legend": null},
   "strokeDash": {"field": "s", "type": "nominal", "scale": {"domain": ["g", "r"], "range": [[10, 5], [1, 0]]}, "legend": null}
  }},
 {"width": 448, "height": 99, "title": "Yaw\u00a0 Pred RMSE：2.55°", "data": {"name": "L6"}, "mark": {"type": "line", "strokeWidth": 2},
  "encoding": {
   "x": {"field": "f", "type": "quantitative", "scale": {"domain": [-2, 510], "nice": false, "zero": false}, "axis": {"title": "Frame", "titlePadding": 4, "labels": true, "format": "d", "values": [0,50,100,150,200,250,300,350,400,450,500], "labelExpr": "datum.value % 100 === 0 ? datum.label : ''", "tickOpacity": {"condition": {"test": "datum.value % 100 === 0", "value": 1}, "value": 0}, "gridColor": {"condition": {"test": "datum.value % 100 === 0", "value": "#8a8a8a"}, "value": "#c8c8c8"}}},
   "y": {"field": "v", "type": "quantitative", "scale": {"domain": [-424, 7], "nice": false, "zero": false}, "axis": {"title": "Yam (°)", "titleX": -26, "format": "d", "values": [-400,-350,-300,-250,-200,-150,-100,-50,0], "labelExpr": "datum.value % 100 === 0 ? datum.label : ''", "tickOpacity": {"condition": {"test": "datum.value % 100 === 0", "value": 1}, "value": 0}, "gridColor": {"condition": {"test": "datum.value % 100 === 0", "value": "#8a8a8a"}, "value": "#c8c8c8"}}},
   "color": {"field": "s", "type": "nominal", "scale": {"domain": ["g", "r"], "range": ["#1f50e8", "#ff0000"]}, "legend": null},
   "strokeDash": {"field": "s", "type": "nominal", "scale": {"domain": ["g", "r"], "range": [[10, 5], [1, 0]]}, "legend": null}
  }},
 {"width": 448, "height": 99, "title": "Yaw\u00a0 Pred RMSE：2.76°", "data": {"name": "R6"}, "mark": {"type": "line", "strokeWidth": 2},
  "encoding": {
   "x": {"field": "f", "type": "quantitative", "scale": {"domain": [-2, 230], "nice": false, "zero": false}, "axis": {"title": "Frame", "titlePadding": 4, "labels": true, "format": "d", "values": [0,25,50,75,100,125,150,175,200,225], "labelExpr": "datum.value % 50 === 0 ? datum.label : ''", "tickOpacity": {"condition": {"test": "datum.value % 50 === 0", "value": 1}, "value": 0}, "gridColor": {"condition": {"test": "datum.value % 50 === 0", "value": "#8a8a8a"}, "value": "#c8c8c8"}}},
   "y": {"field": "v", "type": "quantitative", "scale": {"domain": [-40, 60], "nice": false, "zero": false}, "axis": {"title": "Yam (°)", "titleX": -22, "format": "d", "values": [-37.5,-25,-12.5,0,12.5,25,37.5,50], "labelExpr": "datum.value % 25 === 0 ? datum.label : ''", "tickOpacity": {"condition": {"test": "datum.value % 25 === 0", "value": 1}, "value": 0}, "gridColor": {"condition": {"test": "datum.value % 25 === 0", "value": "#8a8a8a"}, "value": "#c8c8c8"}}},
   "color": {"field": "s", "type": "nominal", "scale": {"domain": ["g", "r"], "range": ["#1f50e8", "#ff0000"]}, "legend": null},
   "strokeDash": {"field": "s", "type": "nominal", "scale": {"domain": ["g", "r"], "range": [[10, 5], [1, 0]]}, "legend": null}
  }}
]
}
